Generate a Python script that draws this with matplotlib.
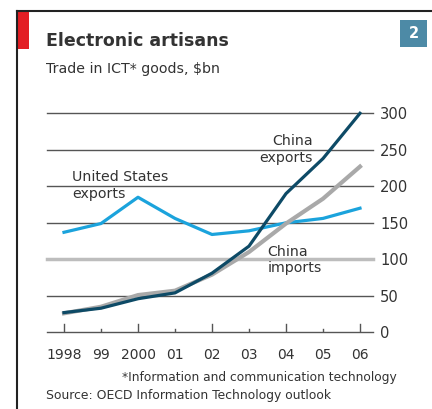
import matplotlib
matplotlib.use("Agg")
import matplotlib.pyplot as plt
from matplotlib.patches import Rectangle
from matplotlib.lines import Line2D

years = [1998, 1999, 2000, 2001, 2002, 2003, 2004, 2005, 2006]
year_labels = ["1998", "99", "2000", "01", "02", "03", "04", "05", "06"]
us_exports = [137, 149, 185, 156, 134, 139, 150, 156, 170]
china_exports = [27, 33, 46, 54, 81, 118, 190, 238, 300]
china_imports = [26, 35, 51, 57, 79, 110, 149, 183, 227]
y_ticks = [0, 50, 100, 150, 200, 250, 300]

W, H = 432, 409
txt = "#333333"

fig = plt.figure(figsize=(W / 100, H / 100), dpi=100)
fig.patch.set_facecolor("white")

# frame, red tag and chart number
fig.add_artist(Line2D([16.5 / W, 16.5 / W], [0, 1 - 10.5 / H], color="#222222", lw=1.5))
fig.add_artist(Line2D([16.5 / W, 1], [1 - 10.5 / H, 1 - 10.5 / H], color="#222222", lw=1.5))
fig.add_artist(Rectangle((17 / W, 1 - 49 / H), 12 / W, 38 / H, color="#e31e24", lw=0))
fig.add_artist(Rectangle((400 / W, 1 - 47 / H), 27 / W, 27 / H, color="#4d8aa6", lw=0))
fig.text(413.5 / W, 1 - 33.5 / H, "2", color="white", fontsize=10.5, fontweight="bold",
         ha="center", va="center")

fig.text(46 / W, 1 - 41 / H, "Electronic artisans", fontsize=12.5, fontweight="bold",
         color=txt, va="center")
fig.text(46 / W, 1 - 69 / H, "Trade in ICT* goods, $bn", fontsize=10.2, color=txt, va="center")
fig.text(397 / W, 1 - 378 / H, "*Information and communication technology", fontsize=8.8,
         color=txt, ha="right", va="center")
fig.text(46 / W, 1 - 395 / H, "Source: OECD Information Technology outlook", fontsize=8.9,
         color=txt, va="center")

ax = fig.add_axes([47 / W, 1 - 332.3 / H, 326 / W, 219 / H])
ax.set_xlim(1998 - 17 / 37, 2006 + 13 / 37)
ax.set_ylim(0, 300)
for s in ax.spines.values():
    s.set_visible(False)

for v in y_ticks:
    if v == 100:
        ax.axhline(v, color="#bdbdbd", lw=2.5, zorder=1, clip_on=False)
    else:
        ax.axhline(v, color="#555555", lw=1, zorder=1, clip_on=False)

ax.plot(years, us_exports, color="#1ba3dc", lw=2.3, zorder=3, clip_on=False)
ax.plot(years, china_imports, color="#a9a9a9", lw=3, zorder=4, clip_on=False)
ax.plot(years, china_exports, color="#0d4a66", lw=2.3, zorder=5, clip_on=False)

# x ticks drawn up from the baseline
for i, y in enumerate(years):
    h = 11 if i % 2 == 0 else 5
    ax.plot([y, y], [0, h], color="#555555", lw=1, zorder=2)

ax.set_xticks(years)
ax.set_xticklabels(year_labels, fontsize=10, color=txt)
ax.tick_params(axis="x", length=0, pad=11)
ax.yaxis.tick_right()
ax.set_yticks(y_ticks)
ax.set_yticklabels([str(v) for v in y_ticks], fontsize=10.6, color=txt)
ax.tick_params(axis="y", length=0, pad=5)

ax.text(1998.22, 201, "United States\nexports", fontsize=10.2, color=txt,
        va="center", ha="left", linespacing=1.2)
ax.text(2004.73, 250, "China\nexports", fontsize=10.2, color=txt,
        va="center", ha="right", multialignment="right", linespacing=1.3)
ax.text(2003.49, 99, "China\nimports", fontsize=10.2, color=txt,
        va="center", ha="left", linespacing=1.2)

fig.savefig("out.png", dpi=100)
